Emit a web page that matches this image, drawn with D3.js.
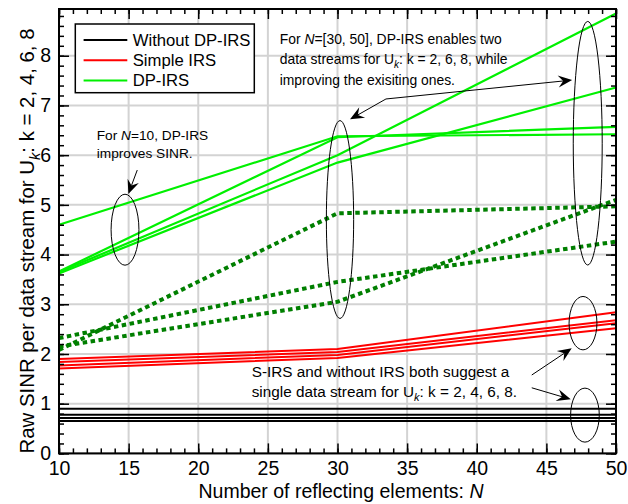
<!DOCTYPE html>
<html><head><meta charset="utf-8">
<script src="https://cdn.jsdelivr.net/npm/d3@7"></script>
<style>body{margin:0;background:#fff;} svg{display:block;font-family:"Liberation Sans",Arial,sans-serif;}</style>
</head><body>
<svg id="c" width="628" height="504"></svg>
<script>
// ---------- data ----------
const nValues = [10, 30, 50];
const xTickValues = [10, 15, 20, 25, 30, 35, 40, 45, 50];
const yTickValues = [0, 1, 2, 3, 4, 5, 6, 7, 8];
const withoutIRS = [[0.90, 0.90, 0.90], [0.78, 0.78, 0.78], [0.71, 0.71, 0.71], [0.65, 0.65, 0.65]];
const simpleIRS = [[1.90, 2.10, 2.84], [1.84, 2.04, 2.68], [1.77, 1.98, 2.62], [1.71, 1.92, 2.52]];
const dpIRS = [[4.60, 6.38, 6.42], [3.66, 6.36, 6.57], [3.65, 6.00, 8.85], [3.62, 5.85, 7.36]];
const dpIRSsecond = [[2.08, 4.83, 4.97], [2.32, 3.45, 4.26], [2.15, 3.05, 5.10]];
const legendLabels = ["Without DP-IRS", "Simple IRS", "DP-IRS"];

// ---------- layout ----------
const svg = d3.select("#c");
const L = 59, R = 616, T = 9, B = 453.4;
const x = d3.scaleLinear().domain([10, 50]).range([L, R]);
const y = d3.scaleLinear().domain([0, 8.94]).range([B, T]);
const FONT = 19.5;

// grid
const grid = svg.append("g").attr("stroke", "#d3d3d3").attr("stroke-width", 2);
grid.selectAll("line.v").data(xTickValues).join("line")
  .attr("x1", d => x(d)).attr("x2", d => x(d)).attr("y1", T).attr("y2", B);
grid.selectAll("line.h").data(yTickValues).join("line")
  .attr("x1", L).attr("x2", R).attr("y1", d => y(d)).attr("y2", d => y(d));

// series
const line = d3.line().x((d, i) => x(nValues[i])).y(d => y(d));
const plot = svg.append("g").attr("fill", "none");
plot.selectAll("path.k").data(withoutIRS).join("path").attr("d", line).attr("stroke", "#000").attr("stroke-width", 2);
plot.selectAll("path.r").data(simpleIRS).join("path").attr("d", line).attr("stroke", "#ff0000").attr("stroke-width", 2);
plot.selectAll("path.g").data(dpIRS).join("path").attr("d", line).attr("stroke", "#00f000").attr("stroke-width", 2.2);
plot.selectAll("path.d").data(dpIRSsecond).join("path").attr("d", line).attr("stroke", "#007f00")
  .attr("stroke-width", 4).attr("stroke-dasharray", "4.5,3.5");

// axes
const xMinor = d3.range(10, 50.01, 1);
const yMinor = d3.range(0, 8.94, 0.2);
function styleAxis(g) {
  g.selectAll(".domain").remove();
  g.selectAll("line").attr("stroke", "#000").attr("stroke-width", 1.5);
  g.selectAll("text").attr("font-size", FONT).attr("font-family", "Liberation Sans, Arial, sans-serif").attr("fill", "#000");
}
svg.append("g").attr("transform", `translate(0,${B})`)
  .call(d3.axisBottom(x).tickValues(xMinor).tickFormat("").tickSizeInner(-5).tickSizeOuter(0)).call(styleAxis);
svg.append("g").attr("transform", `translate(0,${B})`)
  .call(d3.axisBottom(x).tickValues(xTickValues).tickFormat(d3.format("d")).tickSizeInner(-10).tickSizeOuter(0).tickPadding(8)).call(styleAxis);
svg.append("g").attr("transform", `translate(0,${T})`)
  .call(d3.axisTop(x).tickValues(xMinor).tickFormat("").tickSizeInner(-5).tickSizeOuter(0)).call(styleAxis);
svg.append("g").attr("transform", `translate(0,${T})`)
  .call(d3.axisTop(x).tickValues(xTickValues).tickFormat("").tickSizeInner(-10).tickSizeOuter(0)).call(styleAxis);
svg.append("g").attr("transform", `translate(${L},0)`)
  .call(d3.axisLeft(y).tickValues(yMinor).tickFormat("").tickSizeInner(-5).tickSizeOuter(0)).call(styleAxis);
svg.append("g").attr("transform", `translate(${L},0)`)
  .call(d3.axisLeft(y).tickValues(yTickValues).tickFormat(d3.format("d")).tickSizeInner(-10).tickSizeOuter(0).tickPadding(8)).call(styleAxis);
svg.append("g").attr("transform", `translate(${R},0)`)
  .call(d3.axisRight(y).tickValues(yMinor).tickFormat("").tickSizeInner(-5).tickSizeOuter(0)).call(styleAxis);
svg.append("g").attr("transform", `translate(${R},0)`)
  .call(d3.axisRight(y).tickValues(yTickValues).tickFormat("").tickSizeInner(-10).tickSizeOuter(0)).call(styleAxis);
svg.append("rect").attr("x", L).attr("y", T).attr("width", R - L).attr("height", B - T)
  .attr("fill", "none").attr("stroke", "#000").attr("stroke-width", 2);

// rich text helper
function rich(sel, parts, size) {
  parts.forEach(p => {
    const ts = sel.append("tspan").text(p.t);
    if (p.i) ts.attr("font-style", "italic");
    if (p.sub) ts.attr("font-size", size * 0.72).attr("dy", size * 0.28);
    if (p.up) ts.attr("dy", -size * 0.28);
  });
}

// axis titles
const xt = svg.append("text").attr("x", 341).attr("y", 498).attr("text-anchor", "middle").attr("font-size", FONT);
rich(xt, [{t: "Number of reflecting elements: "}, {t: "N", i: true}], FONT);
const YFONT = 20.4;
const yt = svg.append("text").attr("transform", `translate(34,241) rotate(-90)`).attr("text-anchor", "middle").attr("font-size", YFONT);
rich(yt, [{t: "Raw SINR per data stream for U"}, {t: "k", i: true, sub: true}, {t: ": k = 2, 4, 6, 8", up: true}], YFONT);

// legend
const lg = svg.append("g");
lg.append("rect").attr("x", 75.3).attr("y", 24).attr("width", 179).attr("height", 68.7)
  .attr("fill", "#fff").attr("stroke", "#000").attr("stroke-width", 1.5);
const legendColors = ["#000", "#ff0000", "#00f000"];
legendLabels.forEach((lab, i) => {
  const yy = 40 + i * 20.2;
  lg.append("line").attr("x1", 83.6).attr("x2", 127.3).attr("y1", yy).attr("y2", yy)
    .attr("stroke", legendColors[i]).attr("stroke-width", 2);
  lg.append("text").attr("x", 132.7).attr("y", yy).attr("dy", "0.35em").attr("font-size", 16.7).text(lab);
});

// annotations (positions in data units)
const ann = svg.append("g").attr("fill", "none").attr("stroke", "#000").attr("stroke-width", 1);
const ellipses = [
  {n: 14.74, v: 4.50, rn: 1.0, rv: 0.714},
  {n: 30.18, v: 4.705, rn: 0.98, rv: 1.99},
  {n: 47.97, v: 6.24, rn: 1.04, rv: 2.45},
  {n: 47.63, v: 2.62, rn: 1.0, rv: 0.537},
  {n: 47.77, v: 0.77, rn: 1.03, rv: 0.543}
];
ellipses.forEach(e => {
  ann.append("ellipse").attr("cx", x(e.n)).attr("cy", y(e.v))
    .attr("rx", x(e.n + e.rn) - x(e.n)).attr("ry", y(e.v) - y(e.v + e.rv));
});
const arrows = [
  [15.62, 5.70, 14.98, 5.22],
  [33.48, 7.13, 46.85, 7.51],
  [33.48, 7.13, 30.90, 6.72],
  [43.95, 1.577, 46.82, 2.114],
  [43.95, 1.32, 46.75, 1.088]
];
arrows.forEach(a => {
  const x1 = x(a[0]), y1 = y(a[1]), x2 = x(a[2]), y2 = y(a[3]);
  const dx = x2 - x1, dy = y2 - y1, len = Math.hypot(dx, dy);
  const ux = dx / len, uy = dy / len, px = -uy, py = ux;
  const HL = 14, HW = 6, NB = 9;
  ann.append("line").attr("x1", x1).attr("y1", y1).attr("x2", x2 - ux * NB).attr("y2", y2 - uy * NB);
  const pts = [
    [x2, y2],
    [x2 - ux * HL + px * HW, y2 - uy * HL + py * HW],
    [x2 - ux * NB, y2 - uy * NB],
    [x2 - ux * HL - px * HW, y2 - uy * HL - py * HW]
  ];
  svg.append("path").attr("d", "M" + pts.map(p => p.join(",")).join("L") + "Z").attr("fill", "#000");
});

const txt = svg.append("g").attr("fill", "#000");
function block(n, v, lines, size, gap) {
  lines.forEach((parts, i) => {
    const t = txt.append("text").attr("x", x(n)).attr("y", y(v) + i * gap).attr("font-size", size);
    rich(t, parts, size);
  });
}
block(25.85, 8.236, [
  [{t: "For "}, {t: "N", i: true}, {t: "=[30, 50], DP-IRS enables two"}],
  [{t: "data streams for U"}, {t: "k", i: true, sub: true}, {t: ": k = 2, 6, 8, while", up: true}],
  [{t: "improving the exisiting ones."}]
], 13.9, 20.5);
block(12.71, 6.30, [
  [{t: "For "}, {t: "N", i: true}, {t: "=10, DP-IRS"}],
  [{t: "improves SINR."}]
], 13.7, 17.5);
block(23.84, 1.527, [
  [{t: "S-IRS and without IRS both suggest a"}],
  [{t: "single data stream for U"}, {t: "k", i: true, sub: true}, {t: ": k = 2, 4, 6, 8.", up: true}]
], 15.3, 19.5);
</script>
</body></html>
